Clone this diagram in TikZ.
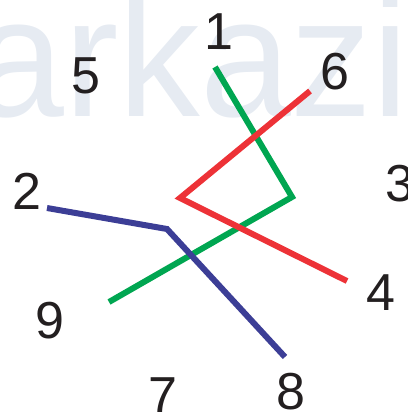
\documentclass[tikz,border=0pt]{standalone}
\usepackage{fontspec}
\setmainfont{Liberation Sans}
\usepackage{xcolor}
\definecolor{lineGreen}{RGB}{0,166,81}
\definecolor{lineRed}{RGB}{237,50,55}
\definecolor{lineBlue}{RGB}{60,62,150}
\definecolor{digitGray}{RGB}{35,31,32}
\definecolor{markBlue}{RGB}{230,235,242}

\begin{document}
\begin{tikzpicture}[x=0.025cm, y=-0.025cm, every node/.style={font=\fontsize{37}{40}\selectfont, text=digitGray, inner sep=0pt},
  stroke/.style={line width=0.15cm}]
  \useasboundingbox (0,0) rectangle (407,412);
  \clip (0,0) rectangle (407,412);
  \node[font=\fontsize{121}{130}\selectfont, text=markBlue, anchor=base west, xscale=0.96] (mark) at (-27,117) {arkazi};
  % numbers
  \node (n1) at (219,32) {1};
  \node (n2) at (27,191) {2};
  \node (n3) at (400,184) {3};
  \node (n4) at (381,293) {4};
  \node (n5) at (86,76) {5};
  \node (n6) at (335,72) {6};
  \node (n7) at (163,396) {7};
  \node (n8) at (291,392) {8};
  \node (n9) at (50,321) {9};
  % line corners
  \coordinate (g1) at (215,67);
  \coordinate (g2) at (292,197);
  \coordinate (g3) at (109,302);
  \coordinate (r1) at (310,91);
  \coordinate (r2) at (180,198);
  \coordinate (r3) at (347,281);
  \coordinate (b1) at (47,208);
  \coordinate (b2) at (167,229);
  \coordinate (b3) at (285,357);
  \draw[stroke, lineGreen] (g1) -- (g2) -- (g3);
  \draw[stroke, lineRed] (r1) -- (r2) -- (r3);
  \draw[stroke, lineBlue] (b1) -- (b2) -- (b3);
\end{tikzpicture}
\end{document}
